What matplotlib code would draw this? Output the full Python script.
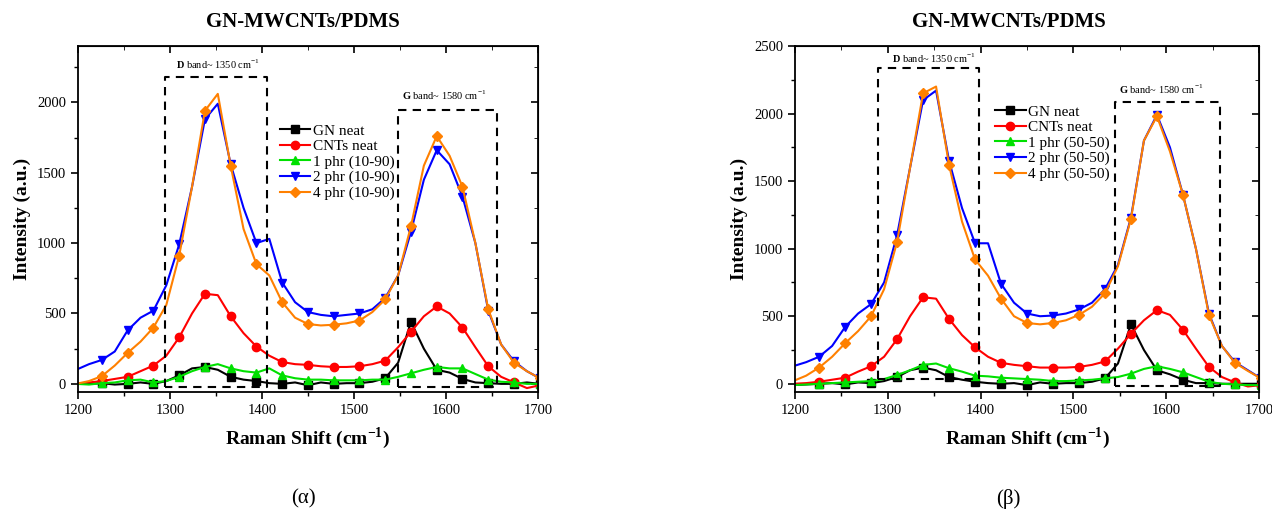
import numpy as np
import matplotlib
matplotlib.use("Agg")
import matplotlib.pyplot as plt
from matplotlib.ticker import MultipleLocator

# raman shift grid [cm-1]
shift = [1198, 1212, 1226, 1240, 1254, 1268, 1282, 1296, 1310, 1324, 1338, 1352,
         1366, 1380, 1394, 1408, 1422, 1436, 1450, 1464, 1478, 1492, 1506, 1520,
         1534, 1548, 1562, 1576, 1590, 1604, 1618, 1632, 1646, 1660, 1674, 1688, 1702]

# (a) 10-90
gn_a = [0, 0, 5, -5, 0, 10, 0, 20, 60, 110, 120, 100, 50, 30, 20, 5, 0, 10, -10, 10,
        0, 5, 5, 15, 40, 150, 440, 250, 100, 80, 35, 10, 5, 0, 0, 10, 0]
cnt_a = [0, 10, 20, 35, 50, 90, 130, 200, 330, 500, 640, 630, 480, 360, 265, 200, 155,
         140, 135, 125, 120, 120, 125, 140, 165, 260, 370, 480, 550, 500, 400, 260, 125,
         50, 10, -30, -10]
p1_a = [0, -5, 5, 10, 25, 30, 10, 20, 50, 90, 120, 140, 110, 90, 80, 110, 60, 40, 30,
        30, 25, 25, 25, 30, 30, 50, 75, 100, 120, 110, 110, 70, 30, 15, 10, 0, 0]
p2_a = [100, 140, 170, 230, 380, 470, 520, 700, 990, 1400, 1880, 1990, 1560, 1250,
        1000, 1030, 720, 580, 510, 490, 480, 490, 500, 530, 610, 770, 1080, 1450, 1660,
        1560, 1330, 1000, 520, 280, 160, 90, 40]
p4_a = [0, 20, 55, 130, 220, 300, 400, 560, 910, 1400, 1940, 2060, 1550, 1100, 850,
        770, 580, 470, 425, 415, 420, 430, 450, 510, 600, 770, 1120, 1550, 1760, 1620,
        1400, 1000, 530, 280, 150, 90, 40]

# (b) 50-50
gn_b = [-10, -5, 0, 5, -5, 10, 5, 20, 50, 100, 120, 100, 50, 30, 15, 5, 0, 5, -10, 10,
        0, 5, 5, 15, 40, 150, 440, 250, 100, 70, 30, 5, 5, 0, 0, 0, 0]
cnt_b = [0, 5, 15, 30, 45, 90, 130, 200, 330, 500, 640, 630, 480, 360, 270, 200, 155,
         140, 130, 120, 120, 120, 125, 140, 165, 260, 370, 470, 545, 510, 400, 260, 125,
         50, 10, -20, -10]
p1_b = [-10, -5, 0, 5, 10, 15, 20, 35, 65, 100, 140, 150, 115, 90, 60, 55, 45, 40, 35,
        30, 20, 20, 25, 30, 40, 50, 75, 110, 130, 110, 85, 50, 15, 0, -5, -10, -10]
p2_b = [130, 160, 200, 280, 420, 520, 590, 750, 1100, 1600, 2100, 2170, 1650, 1300,
        1040, 1040, 740, 600, 520, 500, 505, 520, 550, 600, 700, 880, 1230, 1800, 1990,
        1750, 1400, 1000, 520, 280, 160, 100, 40]
p4_b = [20, 60, 120, 200, 300, 390, 500, 700, 1050, 1600, 2150, 2200, 1620, 1200, 920,
        800, 630, 500, 450, 440, 450, 470, 510, 570, 670, 870, 1220, 1800, 1980, 1720,
        1400, 1000, 510, 280, 155, 95, 40]

labels_a = ['GN neat', 'CNTs neat', '1 phr (10-90)', '2 phr (10-90)', '4 phr (10-90)']
labels_b = ['GN neat', 'CNTs neat', '1 phr (50-50)', '2 phr (50-50)', '4 phr (50-50)']
colors = ['black', '#FF0000', '#00E000', '#0000FF', '#FF8000']
markers = ['s', 'o', '^', 'v', 'D']

# band boxes: (x0, x1, y0, y1)
boxes_a = [(1295, 1406, -20, 2177), (1548, 1656, -20, 1943)]
boxes_b = [(1289, 1398, 37, 2338), (1545, 1658, -15, 2088)]
text_a = [(1352, 2225, 'D', '1350'), (1598, 2005, 'G', '1580')]
text_b = [(1350, 2360, 'D', '1350'), (1595, 2130, 'G', '1580')]

plt.rcParams['font.family'] = 'Liberation Serif'
plt.rcParams['mathtext.fontset'] = 'custom'
plt.rcParams['mathtext.rm'] = 'Liberation Serif'
plt.rcParams['mathtext.bf'] = 'Liberation Serif:bold'

fig = plt.figure(figsize=(12.72, 5.17), dpi=100)
ax1 = fig.add_axes([0.0613, 0.242, 0.3616, 0.669])
ax2 = fig.add_axes([0.625, 0.242, 0.3648, 0.669])

def draw(ax, series, labels, ylim, boxes, texts, leg_pos, caption, cx):
    for y, lab, c, m in zip(series, labels, colors, markers):
        ax.plot(shift, y, color=c, lw=1.5, marker=m, ms=6 if m != 'D' else 5.5,
                markevery=list(range(2, len(shift), 2)), label=lab)
    for x0, x1, y0, y1 in boxes:
        ax.plot([x0, x0, x1, x1, x0], [y0, y1, y1, y0, y0], color='black',
                ls=(0, (4, 3)), lw=1.5)
    for x, y, b, v in texts:
        ax.text(x, y, r'$\mathbf{%s}$ band~ %s cm$^{-1}$' % (b, v), ha='center',
                va='bottom', fontsize=7.5)
    ax.set_xlim(1200, 1700)
    ax.set_ylim(*ylim)
    ax.xaxis.set_major_locator(MultipleLocator(100))
    ax.xaxis.set_minor_locator(MultipleLocator(50))
    ax.yaxis.set_major_locator(MultipleLocator(500))
    ax.yaxis.set_minor_locator(MultipleLocator(250))
    ax.tick_params(which='both', direction='out', labelsize=10.5)
    ax.tick_params(which='major', length=5, width=1.2)
    ax.tick_params(which='minor', length=3, width=1.0)
    for s in ax.spines.values():
        s.set_linewidth(1.3)
    top = ax.secondary_xaxis('top')
    top.xaxis.set_major_locator(MultipleLocator(100))
    top.xaxis.set_minor_locator(MultipleLocator(50))
    top.tick_params(which='both', direction='in', labeltop=False)
    top.tick_params(which='major', length=5, width=1.2)
    top.tick_params(which='minor', length=3)
    right = ax.secondary_yaxis('right')
    right.yaxis.set_major_locator(MultipleLocator(500))
    right.yaxis.set_minor_locator(MultipleLocator(250))
    right.tick_params(which='both', direction='in', labelright=False)
    right.tick_params(which='major', length=5, width=1.2)
    right.tick_params(which='minor', length=3)
    ax.set_title('GN-MWCNTs/PDMS', fontsize=15, fontweight='bold', pad=14, x=cx)
    ax.set_ylabel('Intensity (a.u.)', fontsize=14, fontweight='bold', labelpad=4)
    ax.set_xlabel(r'Raman Shift (cm$^{\mathbf{-1}}$)', fontsize=14, fontweight='bold',
                  labelpad=6)
    ax.legend(loc='upper left', bbox_to_anchor=leg_pos, frameon=False, fontsize=11,
              handlelength=2.0, handletextpad=0.15, labelspacing=0.12, borderpad=0,
              borderaxespad=0)
    ax.text(cx, -0.31, caption, transform=ax.transAxes, ha='center', va='center',
            fontsize=15)

draw(ax1, [gn_a, cnt_a, p1_a, p2_a, p4_a], labels_a, (-57, 2400), boxes_a, text_a,
     (0.439, 0.775), '(α)', 0.49)
draw(ax2, [gn_b, cnt_b, p1_b, p2_b, p4_b], labels_b, (-60, 2500), boxes_b, text_b,
     (0.431, 0.83), '(β)', 0.46)

fig.savefig('out.png', dpi=100)
